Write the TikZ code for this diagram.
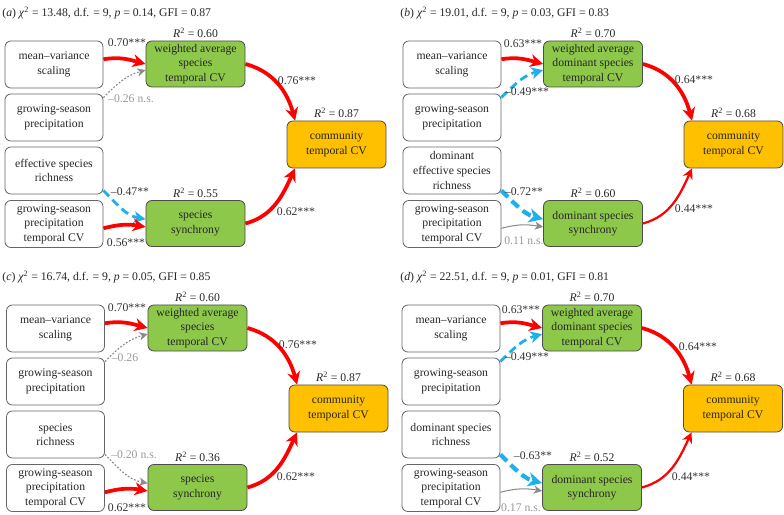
\documentclass[tikz,border=0pt]{standalone}
\usepackage{fontspec}
\setmainfont{Liberation Serif}
\usetikzlibrary{arrows.meta,positioning}
\definecolor{boxgreen}{HTML}{8DC84A}
\definecolor{boxorange}{HTML}{FFC000}
\definecolor{arrred}{HTML}{FF0000}
\definecolor{arrblue}{HTML}{1CB0EC}
\tikzset{
  every node/.style={font=\fontsize{10}{12.4}\selectfont},
  varbox/.style={draw=black!60,line width=0.7pt,rounded corners=5pt,align=center,minimum width=2.94cm,minimum height=1.41cm,inner sep=1pt,text=black!85},
  midbox/.style={varbox,fill=boxgreen,draw=black!70,minimum width=2.97cm,minimum height=1.38cm},
  endbox/.style={varbox,fill=boxorange,draw=black!70,minimum width=2.97cm},
  rsq/.style={inner sep=1pt,text=black!85},
  vlab/.style={inner sep=1pt,text=black!80},
  nslab/.style={inner sep=1pt,text=black!40},
  title/.style={anchor=west,inner sep=1pt,text=black!85},
  redarr/.style={draw=arrred,line width=3.2pt,-{Stealth[length=11pt,width=11pt,inset=3.5pt]}},
  redthin/.style={draw=arrred,line width=1.9pt,-{Stealth[length=9pt,width=9pt,inset=3pt]}},
  bluearr/.style={draw=arrblue,line width=2.4pt,dash pattern=on 7pt off 4pt,-{Stealth[length=10pt,width=10pt,inset=3pt]}},
  bluethick/.style={draw=arrblue,line width=3.6pt,dash pattern=on 8pt off 4.5pt,-{Stealth[length=12pt,width=12pt,inset=3.5pt]}},
  grayarr/.style={draw=black!45,line width=1pt,dash pattern=on 1.5pt off 1.5pt,-{Stealth[length=7pt,width=7pt,inset=2pt]}},
  graysolid/.style={draw=black!45,line width=0.9pt,-{Stealth[length=7pt,width=7pt,inset=2pt]}}
}
\begin{document}
\begin{tikzpicture}[x=0.03cm,y=-0.03cm]
\useasboundingbox (0,0) rectangle (784,515);

% (a)
\begin{scope}
\node[title] (a-t) at (1,13) {(\textit{a}) \textit{χ}\textsuperscript{2} = 13.48, d.f. = 9, \textit{p} = 0.14, GFI = 0.87};
\node[varbox] (a-mv) at (54,64.5) {mean–variance\\scaling};
\node[varbox] (a-gsp) at (54,117.5) {growing-season\\precipitation};
\node[varbox] (a-esr) at (54,170.5) {effective species\\richness};
\node[varbox] (a-cv) at (54,224) {growing-season\\precipitation\\temporal CV};
\node[midbox] (a-wa) at (195.5,64) {weighted average\\species\\temporal CV};
\node[midbox] (a-ss) at (195.5,223.5) {species\\synchrony};
\node[endbox] (a-comm) at (336.5,144.5) {community\\temporal CV};
\node[rsq,above=1pt of a-wa] (a-r1) {\textit{R}\textsuperscript{2} = 0.60};
\node[rsq,above=1pt of a-ss] (a-r2) {\textit{R}\textsuperscript{2} = 0.55};
\node[rsq,above=1pt of a-comm] (a-r3) {\textit{R}\textsuperscript{2} = 0.87};
\draw[redarr] (a-mv.6) to[out=10,in=165] (a-wa.west);
\draw[grayarr] (a-gsp.22) to[out=45,in=195] (a-wa.187);
\draw[redarr] (a-wa.east) to[out=-15,in=105] (a-comm.150);
\draw[bluearr] (a-esr.-22) to[out=-45,in=170] (a-ss.175);
\draw[redarr] (a-cv.-5) to[out=15,in=170] (a-ss.184);
\draw[redarr] (a-ss.east) to[out=15,in=-115] (a-comm.-150);
\node[vlab] (a-l1) at (127,43) {0.70***};
\node[nslab] (a-l2) at (131,99) {–0.26 n.s.};
\node[vlab] (a-l3) at (297,81) {0.76***};
\node[vlab] (a-l4) at (130,192) {–0.47**};
\node[vlab] (a-l5) at (126,243) {0.56***};
\node[vlab] (a-l6) at (296,212) {0.62***};
\end{scope}

% (b)
\begin{scope}[shift={(392,0)}]
\node[title] (b-t) at (7,13) {(\textit{b}) \textit{χ}\textsuperscript{2} = 19.01, d.f. = 9, \textit{p} = 0.03, GFI = 0.83};
\node[varbox] (b-mv) at (60,64.5) {mean–variance\\scaling};
\node[varbox] (b-gsp) at (60,117.5) {growing-season\\precipitation};
\node[varbox] (b-esr) at (60,170.5) {dominant\\effective species\\richness};
\node[varbox] (b-cv) at (60,224) {growing-season\\precipitation\\temporal CV};
\node[midbox] (b-wa) at (201,64) {weighted average\\dominant species\\temporal CV};
\node[midbox] (b-ss) at (201,223.5) {dominant species\\synchrony};
\node[endbox] (b-comm) at (341.5,144.5) {community\\temporal CV};
\node[rsq,above=1pt of b-wa] (b-r1) {\textit{R}\textsuperscript{2} = 0.70};
\node[rsq,above=1pt of b-ss] (b-r2) {\textit{R}\textsuperscript{2} = 0.60};
\node[rsq,above=1pt of b-comm] (b-r3) {\textit{R}\textsuperscript{2} = 0.68};
\draw[redarr] (b-mv.6) to[out=10,in=165] (b-wa.west);
\draw[bluearr] (b-gsp.22) to[out=45,in=195] (b-wa.187);
\draw[redarr] (b-wa.east) to[out=-15,in=105] (b-comm.150);
\draw[bluethick] (b-esr.-22) to[out=-45,in=165] (b-ss.175);
\draw[graysolid] (b-cv.-5) to[out=15,in=170] (b-ss.184);
\draw[redthin] (b-ss.east) to[out=15,in=-115] (b-comm.-150);
\node[vlab] (b-l1) at (131,44) {0.63***};
\node[vlab] (b-l2) at (135,92) {–0.49***};
\node[vlab] (b-l3) at (302,80) {0.64***};
\node[vlab] (b-l4) at (132,192) {–0.72**};
\node[nslab] (b-l5) at (132,241) {0.11 n.s.};
\node[vlab] (b-l6) at (302,209) {0.44***};
\end{scope}

% (c)
\begin{scope}[shift={(0,264)}]
\node[title] (c-t) at (1,13) {(\textit{c}) \textit{χ}\textsuperscript{2} = 16.74, d.f. = 9, \textit{p} = 0.05, GFI = 0.85};
\node[varbox] (c-mv) at (55.5,64.5) {mean–variance\\scaling};
\node[varbox] (c-gsp) at (55.5,117.5) {growing-season\\precipitation};
\node[varbox] (c-esr) at (55.5,170.5) {species\\richness};
\node[varbox] (c-cv) at (55.5,224) {growing-season\\precipitation\\temporal CV};
\node[midbox] (c-wa) at (197.5,64) {weighted average\\species\\temporal CV};
\node[midbox] (c-ss) at (197.5,223.5) {species\\synchrony};
\node[endbox] (c-comm) at (338.5,144.5) {community\\temporal CV};
\node[rsq,above=1pt of c-wa] (c-r1) {\textit{R}\textsuperscript{2} = 0.60};
\node[rsq,above=1pt of c-ss] (c-r2) {\textit{R}\textsuperscript{2} = 0.36};
\node[rsq,above=1pt of c-comm] (c-r3) {\textit{R}\textsuperscript{2} = 0.87};
\draw[redarr] (c-mv.6) to[out=10,in=165] (c-wa.west);
\draw[grayarr] (c-gsp.22) to[out=45,in=195] (c-wa.187);
\draw[redarr] (c-wa.east) to[out=-15,in=105] (c-comm.150);
\draw[grayarr] (c-esr.-22) to[out=-45,in=170] (c-ss.175);
\draw[redarr] (c-cv.-5) to[out=15,in=170] (c-ss.184);
\draw[redarr] (c-ss.east) to[out=15,in=-115] (c-comm.-150);
\node[vlab] (c-l1) at (127,44) {0.70***};
\node[nslab] (c-l2) at (125,94) {–0.26};
\node[vlab] (c-l3) at (298,81) {0.76***};
\node[nslab] (c-l4) at (134,191) {–0.20 n.s.};
\node[vlab] (c-l5) at (127,244) {0.62***};
\node[vlab] (c-l6) at (296,213) {0.62***};
\end{scope}

% (d)
\begin{scope}[shift={(392,264)}]
\node[title] (d-t) at (7,13) {(\textit{d}) \textit{χ}\textsuperscript{2} = 22.51, d.f. = 9, \textit{p} = 0.01, GFI = 0.81};
\node[varbox] (d-mv) at (59,64.5) {mean–variance\\scaling};
\node[varbox] (d-gsp) at (59,117.5) {growing-season\\precipitation};
\node[varbox] (d-esr) at (59,170.5) {dominant species\\richness};
\node[varbox] (d-cv) at (59,224) {growing-season\\precipitation\\temporal CV};
\node[midbox] (d-wa) at (200,64) {weighted average\\dominant species\\temporal CV};
\node[midbox] (d-ss) at (200,223.5) {dominant species\\synchrony};
\node[endbox] (d-comm) at (341,144.5) {community\\temporal CV};
\node[rsq,above=1pt of d-wa] (d-r1) {\textit{R}\textsuperscript{2} = 0.70};
\node[rsq,above=1pt of d-ss] (d-r2) {\textit{R}\textsuperscript{2} = 0.52};
\node[rsq,above=1pt of d-comm] (d-r3) {\textit{R}\textsuperscript{2} = 0.68};
\draw[redarr] (d-mv.6) to[out=10,in=165] (d-wa.west);
\draw[bluearr] (d-gsp.22) to[out=45,in=195] (d-wa.187);
\draw[redarr] (d-wa.east) to[out=-15,in=105] (d-comm.150);
\draw[bluethick] (d-esr.-22) to[out=-45,in=165] (d-ss.175);
\draw[graysolid] (d-cv.-5) to[out=15,in=170] (d-ss.184);
\draw[redthin] (d-ss.east) to[out=15,in=-115] (d-comm.-150);
\node[vlab] (d-l1) at (129,46) {0.63***};
\node[vlab] (d-l2) at (135,93) {–0.49***};
\node[vlab] (d-l3) at (306,83) {0.64***};
\node[vlab] (d-l4) at (141,192) {–0.63**};
\node[nslab] (d-l5) at (129,244) {0.17 n.s.};
\node[vlab] (d-l6) at (299,213) {0.44***};
\end{scope}
\end{tikzpicture}
\end{document}
